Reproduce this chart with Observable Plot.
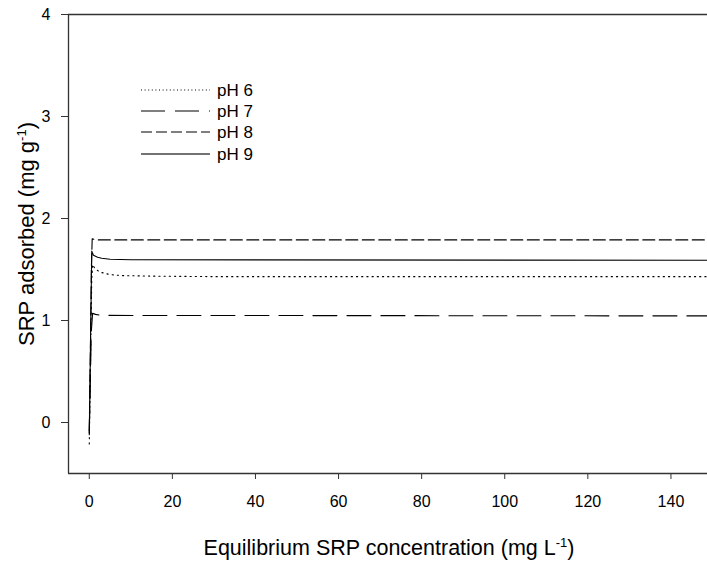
<!DOCTYPE html>
<html><head><meta charset="utf-8">
<script src="https://cdn.jsdelivr.net/npm/d3@7"></script>
<script src="https://cdn.jsdelivr.net/npm/@observablehq/plot@0.6"></script>
<style>body{margin:0;background:#fff;} #chart{width:707px;height:563px;}</style>
</head><body><div id="chart"></div>
<script>
// Series names and styles (legend order)
const seriesNames = ["pH 6", "pH 7", "pH 8", "pH 9"];
const seriesDash = ["1.2,4", "24,10", "12,4.5", null];
const legendDash = ["1,2.6", "24,10", "11,4", null];

// Curve values
const ph6X = [0, 0.2, 0.4, 0.6, 0.8, 1.2, 2, 3, 5, 8, 15, 30, 149];
const ph6Y = [-0.21, 0.3, 0.9, 1.4, 1.55, 1.52, 1.49, 1.47, 1.45, 1.44, 1.435, 1.43, 1.43];
const ph7X = [0, 0.3, 0.5, 0.8, 1.5, 3, 149];
const ph7Y = [-0.1, 0.5, 0.9, 1.07, 1.06, 1.05, 1.045];
const ph8X = [0, 0.3, 0.5, 0.7, 2, 149];
const ph8Y = [-0.08, 0.8, 1.5, 1.80, 1.79, 1.79];
const ph9X = [0, 0.3, 0.6, 1, 2, 3, 5, 10, 149];
const ph9Y = [-0.12, 0.8, 1.68, 1.64, 1.62, 1.61, 1.60, 1.595, 1.59];

const xTicks = [0, 20, 40, 60, 80, 100, 120, 140];
const yTicks = [0, 1, 2, 3, 4];
const xDomain = [-5, 148.8];
const yDomain = [-0.5, 4];

const allX = [ph6X, ph7X, ph8X, ph9X];
const allY = [ph6Y, ph7Y, ph8Y, ph9Y];
const rows = [];
seriesNames.forEach((s, i) => allX[i].forEach((x, j) => rows.push({series: s, x, y: allY[i][j]})));

const font = "Liberation Sans, Arial, sans-serif";
const axisColor = "#333";

const lineMarks = seriesNames.map((s, i) =>
  Plot.line(rows.filter(d => d.series === s), {
    x: "x", y: "y", stroke: "#000", strokeWidth: 1.1,
    strokeDasharray: seriesDash[i] || undefined, curve: "linear"
  })
);

const chart = Plot.plot({
  width: 707, height: 563,
  marginLeft: 68, marginRight: 0, marginTop: 14, marginBottom: 90,
  style: {fontFamily: font, fontSize: "16px", color: "#000", background: "#fff"},
  x: {domain: xDomain, label: null},
  y: {domain: yDomain, label: null},
  marks: [
    Plot.axisX({ticks: xTicks, tickSize: 6, tickPadding: 16, stroke: axisColor, fontSize: 16, label: null, tickFormat: d => String(d)}),
    Plot.axisY({ticks: yTicks, tickSize: 7, tickPadding: 11, stroke: axisColor, fontSize: 16, label: null, tickFormat: d => String(d)}),
    Plot.ruleY([yDomain[0]], {stroke: axisColor, strokeWidth: 1.3}),
    Plot.ruleY([yDomain[1]], {stroke: axisColor, strokeWidth: 1.3}),
    Plot.ruleX([xDomain[0]], {stroke: axisColor, strokeWidth: 1.3}),
    ...lineMarks
  ]
});

document.getElementById("chart").appendChild(chart);

const svg = d3.select(chart);
// Legend
const legY = [90, 111, 132, 154];
seriesNames.forEach((s, i) => {
  const ln = svg.append("line").attr("x1", 141).attr("x2", 210)
    .attr("y1", legY[i]).attr("y2", legY[i])
    .attr("stroke", i === 3 ? "#444" : "#000").attr("stroke-width", i === 3 ? 1.6 : 1.1);
  if (legendDash[i]) ln.attr("stroke-dasharray", legendDash[i]);
  svg.append("text").attr("x", 235).attr("y", legY[i]).attr("dy", "0.36em")
    .attr("font-family", font).attr("font-size", 17).attr("fill", "#000").text(s);
});

// Axis titles with superscripts
const xt = svg.append("text").attr("x", 389).attr("y", 555).attr("text-anchor", "middle")
  .attr("font-family", font).attr("font-size", 21.5).attr("fill", "#000");
xt.append("tspan").text("Equilibrium SRP concentration (mg L");
xt.append("tspan").attr("font-size", 13).attr("dy", -8).text("-1");
xt.append("tspan").attr("dy", 8).text(")");

const yt = svg.append("text").attr("transform", "translate(34,234) rotate(-90)").attr("text-anchor", "middle")
  .attr("font-family", font).attr("font-size", 22).attr("fill", "#000");
yt.append("tspan").text("SRP adsorbed (mg g");
yt.append("tspan").attr("font-size", 13).attr("dy", -8).text("-1");
yt.append("tspan").attr("dy", 8).text(")");
</script>
</body></html>
